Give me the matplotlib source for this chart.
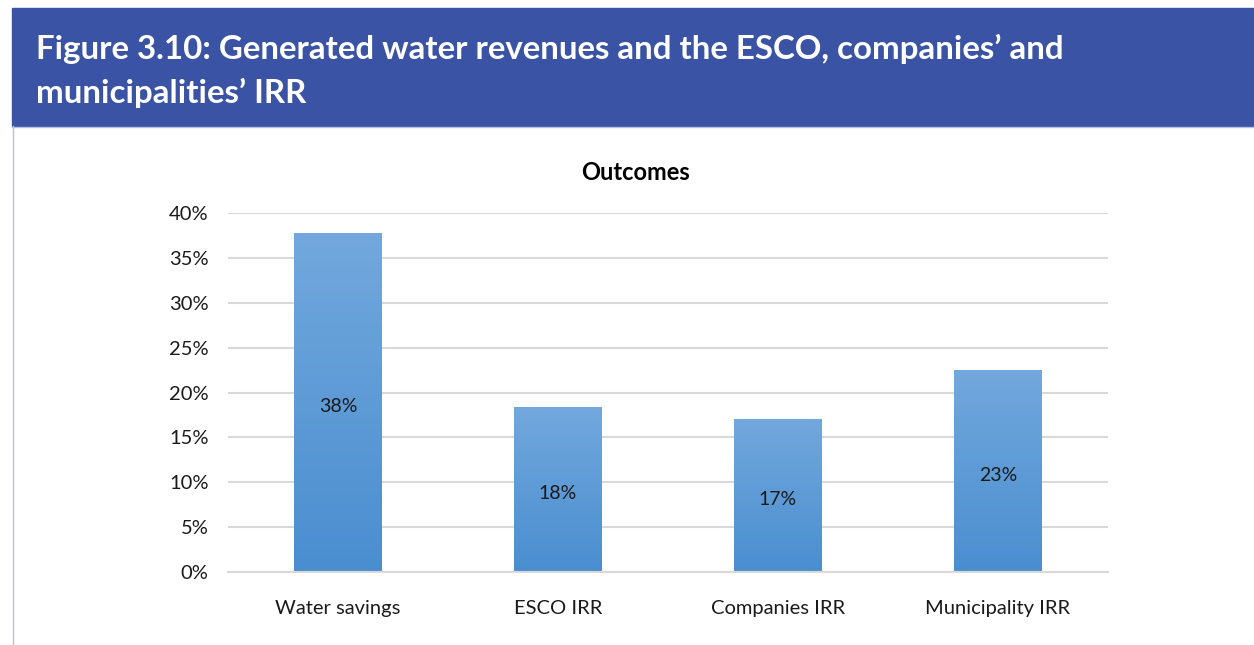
import numpy as np
import matplotlib.pyplot as plt
from matplotlib.patches import Rectangle
from matplotlib.ticker import FuncFormatter

categories = ["Water savings", "ESCO IRR", "Companies IRR", "Municipality IRR"]
values = [0.378, 0.184, 0.171, 0.225]
labels = ["38%", "18%", "17%", "23%"]

W, H = 1254, 645
fig = plt.figure(figsize=(W / 100, H / 100), dpi=100)

# header band
fig.patches.append(Rectangle((12 / W, 1 - 126 / H), 1 - 12 / W, 118 / H,
                             transform=fig.transFigure, color="#3A53A4", zorder=0))
fig.add_artist(plt.Line2D([12.5 / W, 12.5 / W], [0, 1 - 126 / H],
                          transform=fig.transFigure, color="#B8BFE6", lw=1))
fig.add_artist(plt.Line2D([12 / W, 1], [1 - 127 / H, 1 - 127 / H],
                          transform=fig.transFigure, color="#B8BFE6", lw=1))
fig.text(36 / W, 1 - 49 / H, "Figure 3.10: Generated water revenues and the ESCO, companies\u2019 and",
         color="white", fontsize=23.8, fontweight="bold", family="Lato", va="center")
fig.text(36 / W, 1 - 93 / H, "municipalities\u2019 IRR",
         color="white", fontsize=23.8, fontweight="bold", family="Lato", va="center")

ax = fig.add_axes([228 / W, 1 - 572 / H, 880 / W, (572 - 213) / H])
x = np.arange(len(categories))
bars = ax.bar(x, values, width=0.4, color="#5B9BD5", zorder=2)

# vertical gradient on each bar
grad = np.linspace(0, 1, 256).reshape(-1, 1)
cmap = plt.matplotlib.colors.LinearSegmentedColormap.from_list("g", ["#4A8ED0", "#72A8DD"])
for b in bars:
    b.set_facecolor("none")
    im = ax.imshow(grad, cmap=cmap, aspect="auto", origin="lower",
                   extent=[b.get_x(), b.get_x() + b.get_width(), 0, b.get_height()], zorder=2)
    im.set_clip_path(b)

for xi, v, lab in zip(x, values, labels):
    ax.annotate(lab, (xi, v / 2), xytext=(0, -3), textcoords="offset points",
                ha="center", va="center", fontsize=14, family="Lato", color="#1a1a1a", zorder=3)

ax.set_xlim(-0.5, len(categories) - 0.5)
ax.set_ylim(0, 0.40)
ax.set_yticks(np.arange(0, 0.401, 0.05))
ax.yaxis.set_major_formatter(FuncFormatter(lambda v, p: f"{v * 100:.0f}%"))
ax.set_xticks(x)
ax.set_xticklabels(categories)
ax.grid(axis="y", color="#D9D9D9", lw=1.5, zorder=0)
ax.set_axisbelow(True)
for s in ["top", "right", "left"]:
    ax.spines[s].set_visible(False)
ax.spines["bottom"].set_color("#D9D9D9")
ax.spines["bottom"].set_linewidth(1.5)
ax.tick_params(length=0, labelsize=14.5, colors="#1a1a1a")
ax.tick_params(axis="y", pad=14)
ax.tick_params(axis="x", pad=20)
for t in ax.get_xticklabels() + ax.get_yticklabels():
    t.set_family("Lato")
fig.text(636 / W, 1 - 173 / H, "Outcomes", fontsize=17, fontweight="bold",
         family="Lato", ha="center", va="center")

fig.savefig("out.png", dpi=100)
